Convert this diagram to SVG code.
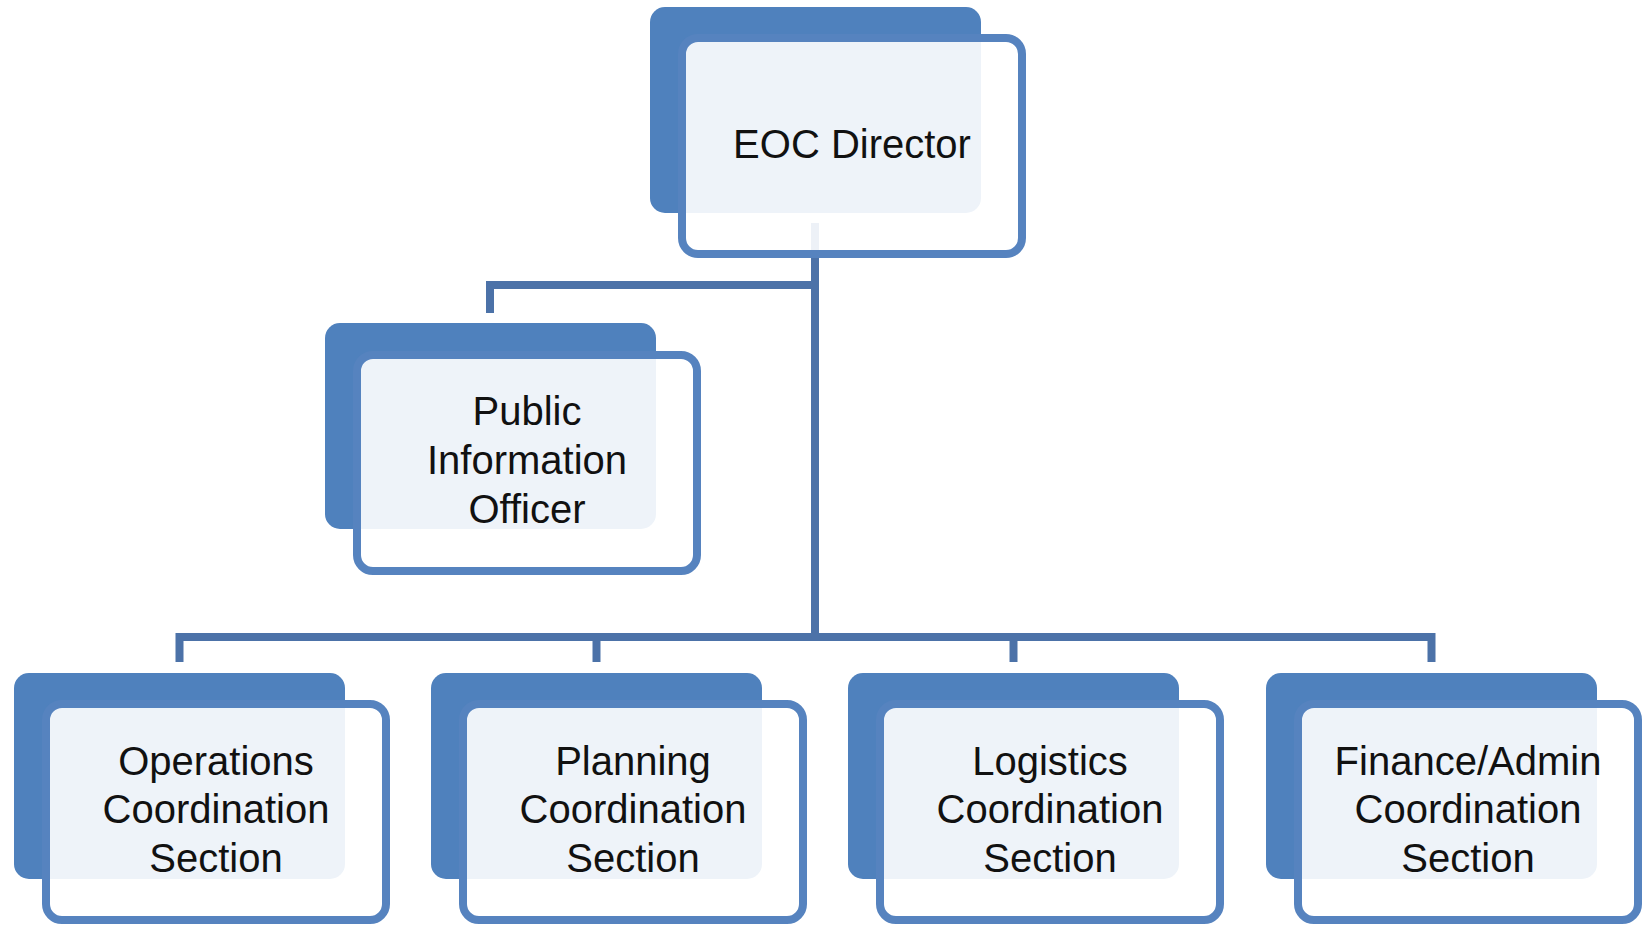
<svg xmlns="http://www.w3.org/2000/svg" width="1646" height="926" viewBox="0 0 1646 926">
<style>
.back{fill:#4F81BD;}
.front{fill:#FFFFFF;fill-opacity:0.9;stroke:#5683BF;stroke-width:8;}
.conn{fill:none;stroke:#4C72A8;stroke-width:8;stroke-linejoin:miter;stroke-linecap:butt;}
.lbl{font-family:"Liberation Sans",Arial,sans-serif;font-size:40px;fill:#111;text-anchor:middle;}
</style>
<rect x="0" y="0" width="1646" height="926" fill="#FFFFFF"/>
<g id="connectors">
<path class="conn" d="M815 223 V637"/>
<path class="conn" d="M490 313 V285 H815"/>
<path class="conn" d="M179.5 662 V637 H1431.5 V662"/>
<path class="conn" d="M596.5 637 V662"/>
<path class="conn" d="M1013.5 637 V662"/>
</g>
<g id="eoc-director">
<rect class="back" x="650" y="7" width="331" height="206" rx="15"/>
<rect class="front" x="682" y="38" width="340" height="216" rx="16"/>
<text class="lbl" x="852" y="158">EOC Director</text>
</g>
<g id="public-information-officer">
<rect class="back" x="325" y="323" width="331" height="206" rx="15"/>
<rect class="front" x="357" y="355" width="340" height="216" rx="16"/>
<text class="lbl" x="527" y="425">Public</text>
<text class="lbl" x="527" y="474">Information</text>
<text class="lbl" x="527" y="523">Officer</text>
</g>
<g id="operations">
<rect class="back" x="14" y="673" width="331" height="206" rx="15"/>
<rect class="front" x="46" y="704" width="340" height="216" rx="16"/>
<text class="lbl" x="216" y="775">Operations</text>
<text class="lbl" x="216" y="823">Coordination</text>
<text class="lbl" x="216" y="872">Section</text>
</g>
<g id="planning">
<rect class="back" x="431" y="673" width="331" height="206" rx="15"/>
<rect class="front" x="463" y="704" width="340" height="216" rx="16"/>
<text class="lbl" x="633" y="775">Planning</text>
<text class="lbl" x="633" y="823">Coordination</text>
<text class="lbl" x="633" y="872">Section</text>
</g>
<g id="logistics">
<rect class="back" x="848" y="673" width="331" height="206" rx="15"/>
<rect class="front" x="880" y="704" width="340" height="216" rx="16"/>
<text class="lbl" x="1050" y="775">Logistics</text>
<text class="lbl" x="1050" y="823">Coordination</text>
<text class="lbl" x="1050" y="872">Section</text>
</g>
<g id="finance-admin">
<rect class="back" x="1266" y="673" width="331" height="206" rx="15"/>
<rect class="front" x="1298" y="704" width="340" height="216" rx="16"/>
<text class="lbl" x="1468" y="775">Finance/Admin</text>
<text class="lbl" x="1468" y="823">Coordination</text>
<text class="lbl" x="1468" y="872">Section</text>
</g>
</svg>
